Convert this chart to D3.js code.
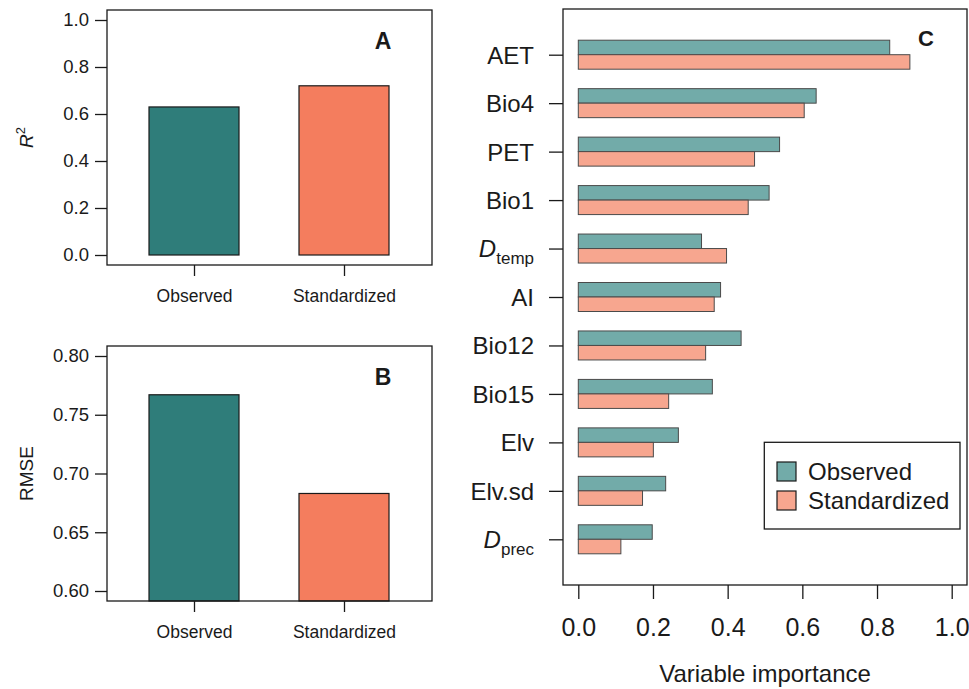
<!DOCTYPE html>
<html>
<head>
<meta charset="utf-8">
<script src="https://cdn.jsdelivr.net/npm/d3@7"></script>
<style>
  body { margin: 0; background: #fff; }
  text { font-family: "Liberation Sans", Arial, sans-serif; fill: #1a1a1a; }
</style>
</head>
<body>
<script>
// data
var groups = ["Observed", "Standardized"];
var r2Values = [0.63, 0.72];
var rmseValues = [0.767, 0.683];
var r2Ticks = [0, 0.2, 0.4, 0.6, 0.8, 1.0];
var rmseTicks = [0.60, 0.65, 0.70, 0.75, 0.80];

var variables = ["AET", "Bio4", "PET", "Bio1", "Dtemp", "AI", "Bio12", "Bio15", "Elv", "Elv.sd", "Dprec"];
var obsImportance = [0.834, 0.637, 0.539, 0.511, 0.330, 0.381, 0.436, 0.359, 0.268, 0.234, 0.198];
var stdImportance = [0.888, 0.605, 0.472, 0.455, 0.397, 0.364, 0.341, 0.242, 0.201, 0.172, 0.114];
var impTicks = [0, 0.2, 0.4, 0.6, 0.8, 1.0];

var darkColors = ["#2f7d7a", "#f47d5e"];
var lightColors = ["#72aba9", "#f7a68f"];

var w = 969, h = 689;
var svg = d3.select("body").append("svg")
    .attr("width", w)
    .attr("height", h);

//small bar panel (A and B)
function barPanel(top, values, ticks, yMin, yMax, fmt, letter, ylabelFn){
    var box = {x0: 107, x1: 432, y0: top, y1: top + 255};
    var y = d3.scaleLinear()
        .domain([yMin, yMax])
        .range([box.y1 - 10, box.y0 + 10]);
    var x = d3.scaleLinear().domain([0, 1]).range([194, 344]);
    var g = svg.append("g").attr("class", "panel");

    g.selectAll(".bar")
        .data(values)
        .enter()
        .append("rect")
        .attr("class", "bar")
        .attr("x", function(d, i){ return x(i) - 45; })
        .attr("width", 90)
        .attr("y", function(d){ return y(d); })
        .attr("height", function(d){ return Math.min(box.y1, y(0)) - y(d); }) // bars from 0, clipped at the box
        .style("fill", function(d, i){ return darkColors[i]; })
        .style("stroke", "#1a1a1a")
        .style("stroke-width", 1.2);

    g.append("rect")
        .attr("x", box.x0).attr("y", box.y0)
        .attr("width", box.x1 - box.x0).attr("height", box.y1 - box.y0)
        .style("fill", "none").style("stroke", "#1a1a1a").style("stroke-width", 1.3);

    var yAxis = g.append("g")
        .attr("transform", "translate(" + box.x0 + ",0)")
        .call(d3.axisLeft(y).tickValues(ticks).tickFormat(d3.format(fmt)).tickSize(12).tickPadding(6).tickSizeOuter(0));
    yAxis.select(".domain").remove();
    yAxis.selectAll("line").style("stroke", "#1a1a1a").style("stroke-width", 1.3);
    yAxis.selectAll("text").style("font-size", "18.5px").style("fill", "#1a1a1a")
        .style("font-family", "Liberation Sans, Arial, sans-serif");

    var xAxis = g.append("g")
        .attr("transform", "translate(0," + box.y1 + ")")
        .call(d3.axisBottom(x).tickValues([0, 1]).tickFormat(function(d){ return groups[d]; }).tickSize(11).tickPadding(14).tickSizeOuter(0));
    xAxis.select(".domain").remove();
    xAxis.selectAll("line").style("stroke", "#1a1a1a").style("stroke-width", 1.3);
    xAxis.selectAll("text").style("font-size", "17.5px").style("fill", "#1a1a1a")
        .style("font-family", "Liberation Sans, Arial, sans-serif");

    g.append("text")
        .attr("x", 383).attr("y", box.y0 + 39)
        .attr("text-anchor", "middle")
        .style("font-size", "23px").style("font-weight", "bold")
        .text(letter);

    ylabelFn(g.append("text")
        .attr("transform", "translate(33," + ((box.y0 + box.y1) / 2) + ") rotate(-90)")
        .attr("text-anchor", "middle")
        .style("font-size", "19px"));
}

barPanel(10, r2Values, r2Ticks, 0, 1, ".1f", "A", function(t){
    t.append("tspan").style("font-style", "italic").text("R");
    t.append("tspan").attr("dy", -8).style("font-size", "13px").text("2");
});
barPanel(346, rmseValues, rmseTicks, 0.6, 0.8, ".2f", "B", function(t){
    t.text("RMSE");
});

// ** PANEL C: horizontal grouped bars **
var cBox = {x0: 563, x1: 967, y0: 9, y1: 585};
var cx = d3.scaleLinear().domain([0, 1]).range([578.3, 951.7]);
var cy = d3.scalePoint().domain(variables).range([54.7, 539.3]);
var barH = 14.5;
var gc = svg.append("g").attr("class", "panelC");

var rows = variables.map(function(v, i){
    return {name: v, values: [obsImportance[i], stdImportance[i]]};
});

var rowG = gc.selectAll(".row")
    .data(rows)
    .enter()
    .append("g")
    .attr("class", "row");

rowG.selectAll(".hbar")
    .data(function(d){ return d.values.map(function(v, j){ return {name: d.name, v: v, j: j}; }); })
    .enter()
    .append("rect")
    .attr("class", "hbar")
    .attr("x", cx(0))
    .attr("y", function(d){ return cy(d.name) - barH + d.j * barH; })
    .attr("width", function(d){ return cx(d.v) - cx(0); })
    .attr("height", barH)
    .style("fill", function(d){ return lightColors[d.j]; })
    .style("stroke", "#4a4a4a")
    .style("stroke-width", 1);

gc.append("rect")
    .attr("x", cBox.x0).attr("y", cBox.y0)
    .attr("width", cBox.x1 - cBox.x0).attr("height", cBox.y1 - cBox.y0)
    .style("fill", "none").style("stroke", "#1a1a1a").style("stroke-width", 1.3);

var cyAxis = gc.append("g")
    .attr("transform", "translate(" + cBox.x0 + ",0)")
    .call(d3.axisLeft(cy).tickSize(14).tickPadding(15).tickFormat(""));
cyAxis.select(".domain").remove();
cyAxis.selectAll("line").style("stroke", "#1a1a1a").style("stroke-width", 1.3);

//variable labels, with subscripts for D
var subs = {Dtemp: "temp", Dprec: "prec"};
cyAxis.selectAll(".tick").append("text")
    .attr("x", -29)
    .attr("dy", "0.35em")
    .attr("text-anchor", "end")
    .style("font-size", "24px")
    .style("fill", "#1a1a1a")
    .style("font-family", "Liberation Sans, Arial, sans-serif")
    .each(function(d){
        var t = d3.select(this);
        if (subs[d]) {
            t.append("tspan").style("font-style", "italic").text("D");
            t.append("tspan").attr("dy", 7).style("font-size", "17px").text(subs[d]);
        } else {
            t.text(d);
        }
    });

var cxAxis = gc.append("g")
    .attr("transform", "translate(0," + cBox.y1 + ")")
    .call(d3.axisBottom(cx).tickValues(impTicks).tickFormat(d3.format(".1f")).tickSize(14).tickPadding(19).tickSizeOuter(0));
cxAxis.select(".domain").remove();
cxAxis.selectAll("line").style("stroke", "#1a1a1a").style("stroke-width", 1.3);
cxAxis.selectAll("text").style("font-size", "25px").style("fill", "#1a1a1a")
    .style("font-family", "Liberation Sans, Arial, sans-serif");

gc.append("text")
    .attr("x", 765).attr("y", 682)
    .attr("text-anchor", "middle")
    .style("font-size", "24px")
    .text("Variable importance");

gc.append("text")
    .attr("x", 926).attr("y", 46)
    .attr("text-anchor", "middle")
    .style("font-size", "22px").style("font-weight", "bold")
    .text("C");

//legend
var legend = gc.append("g").attr("class", "legend");
legend.append("rect")
    .attr("x", 764.3).attr("y", 442.3)
    .attr("width", 195.7).attr("height", 86.7)
    .style("fill", "#fff").style("stroke", "#1a1a1a").style("stroke-width", 1.3);
var items = legend.selectAll(".item")
    .data(groups)
    .enter()
    .append("g")
    .attr("class", "item")
    .attr("transform", function(d, i){ return "translate(777," + (462 + i * 29) + ")"; });
items.append("rect")
    .attr("width", 19).attr("height", 19)
    .style("fill", function(d, i){ return lightColors[i]; })
    .style("stroke", "#1a1a1a").style("stroke-width", 1.2);
items.append("text")
    .attr("x", 31).attr("y", 9.5).attr("dy", "0.35em")
    .style("font-size", "24px")
    .text(function(d){ return d; });
</script>
</body>
</html>
